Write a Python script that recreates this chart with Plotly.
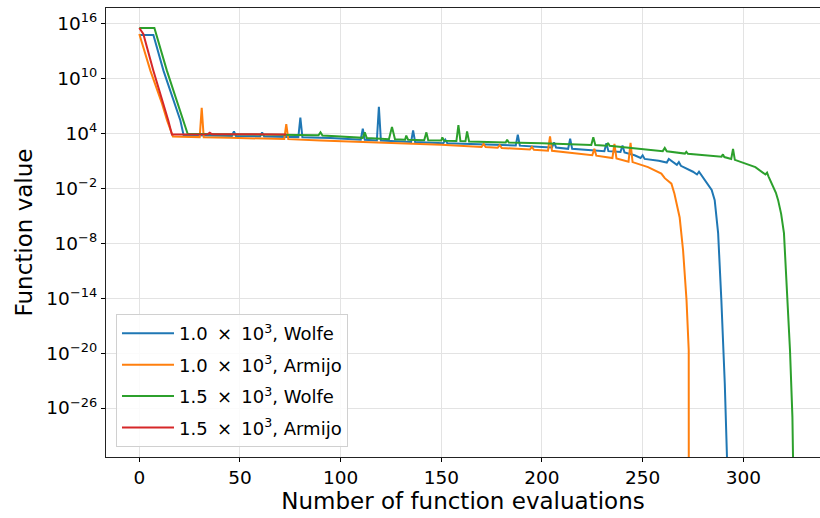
import plotly.graph_objects as go

# Function value (log10) vs. number of function evaluations for each run
blue_x = [0, 7, 12, 17, 20.4, 22, 30, 40, 46, 47, 48, 60, 61, 62, 79, 80, 81, 95,
          110, 111, 112, 118, 119, 120, 135, 136, 137, 151, 152, 153, 170, 187, 188,
          189, 200, 205, 206, 207, 213, 214, 215, 225, 231, 232, 233, 236, 239, 240,
          241, 246, 249, 250, 251, 258, 262, 263, 267, 268, 269, 275, 277, 278, 282,
          284.3, 285.8, 287.5, 289.1, 290.8, 291.9, 292.3]
blue_log = [14.73, 14.73, 10.84, 7.57, 5.39, 3.8, 3.76, 3.72, 3.7, 4.2, 3.7, 3.66, 4.1,
            3.66, 3.58, 5.7, 3.57, 3.48, 3.3, 4.5, 3.3, 3.22, 6.9, 3.2, 3.05, 4.3, 3.05,
            2.92, 3.3, 2.92, 2.8, 2.66, 3.85, 2.65, 2.5, 2.45, 3.0, 2.45, 2.3, 3.4, 2.3,
            2.15, 2.05, 2.9, 2.05, 2.0, 1.95, 2.66, 1.9, 1.6, 1.3, 1.6, 1.2, 1.0, 0.8,
            1.2, 0.55, 0.85, 0.45, -0.2, -0.5, -0.2, -1.5, -2.2, -3.3, -6.9, -14.2,
            -23.3, -31.4, -40]

orange_x = [0, 5.5, 11.3, 13.8, 16.7, 25, 30, 31, 32, 45, 60, 72, 73, 74, 90, 110,
            130, 150, 170, 171, 172, 178, 179, 180, 194, 195, 196, 203, 204, 205, 215,
            225, 226, 227, 235, 236, 237, 240, 243, 244, 245, 252.7, 259.3, 261, 264.3,
            265.8, 268.4, 270.1, 271.8, 272.9, 272.95]
orange_log = [14.84, 10.84, 7.24, 5.39, 3.64, 3.6, 3.58, 6.77, 3.57, 3.5, 3.42, 3.38,
              5.0, 3.36, 3.22, 3.07, 2.95, 2.75, 2.5, 2.85, 2.5, 2.42, 2.7, 2.4, 2.22,
              2.5, 2.2, 2.1, 3.67, 2.08, 1.85, 1.6, 2.3, 1.55, 1.3, 2.84, 1.25, 1.1,
              0.9, 2.95, 0.85, 0.3, -0.4, -0.9, -1.5, -2.6, -5.2, -8.8, -14.2, -19.7,
              -40]

green_x = [0, 7.5, 13.7, 18.7, 22, 24, 40, 60, 80, 89, 90, 91, 100, 111, 112, 113,
           120, 124, 125.5, 127, 132, 132.6, 133.5, 141.5, 142.6, 143.5, 150, 150.5,
           151.5, 157.5, 158.5, 159.5, 162, 162.8, 163.8, 170, 182, 182.7, 183.5, 200,
           219.6, 224.5, 225.5, 226.5, 232, 232.8, 233.6, 252.7, 260, 261, 262, 271,
           271.7, 272.5, 285.6, 289.2, 289.9, 290.6, 294, 294.9, 295.8, 300.7, 306,
           311, 311.8, 312.5, 314.5, 316.2, 317.3, 318.8, 320.2, 321.7, 323.2, 324.4,
           325, 325.3]
green_log = [15.5, 15.5, 10.84, 7.57, 5.39, 3.94, 3.9, 3.87, 3.83, 3.78, 4.1, 3.76,
             3.65, 3.5, 4.1, 3.48, 3.4, 3.36, 4.7, 3.35, 3.3, 3.75, 3.3, 3.25, 4.1,
             3.24, 3.2, 3.55, 3.19, 3.15, 4.9, 3.14, 3.12, 4.2, 3.11, 3.08, 3.0, 3.3,
             3.0, 2.9, 2.77, 2.73, 3.57, 2.72, 2.65, 2.95, 2.64, 2.2, 2.05, 2.4, 2.03,
             1.78, 1.98, 1.76, 1.57, 1.45, 1.7, 1.4, 1.2, 2.3, 1.1, 0.75, 0.3, -0.5,
             -0.3, -0.7, -1.6, -2.5, -3.3, -4.8, -6.9, -13.2, -19.7, -27, -31.4, -40]

red_x = [0, 2, 7, 12, 14.4, 16.2, 25, 34, 35, 36, 50, 60, 73]
red_log = [15.5, 14.84, 10.84, 7.24, 5.39, 3.88, 3.9, 3.9, 4.05, 3.9, 3.89, 3.88, 3.87]

TIMES = "\u2009\u00d7\u2009"
series = [
    (f"1.0 {TIMES} 10<sup>3</sup>, Wolfe", blue_x, blue_log, "#1f77b4"),
    (f"1.0 {TIMES} 10<sup>3</sup>, Armijo", orange_x, orange_log, "#ff7f0e"),
    (f"1.5 {TIMES} 10<sup>3</sup>, Wolfe", green_x, green_log, "#2ca02c"),
    (f"1.5 {TIMES} 10<sup>3</sup>, Armijo", red_x, red_log, "#d62728"),
]

y_tick_exps = [16, 10, 4, -2, -8, -14, -20, -26]
x_tick_vals = [0, 50, 100, 150, 200, 250, 300]

FONT = "DejaVu Sans"

fig = go.Figure()
for i, (name, xs, logs, color) in enumerate(series):
    fig.add_trace(go.Scatter(
        x=xs, y=[10.0 ** v for v in logs], mode="lines", name=name,
        line=dict(color=color, width=2), legendgroup=f"g{i}",
    ))

def sup_label(e):
    s = str(e).replace("-", "\u2212")
    return f"10<sup>{s}</sup>"

fig.update_layout(
    width=820, height=518,
    margin=dict(l=106, r=0, t=8, b=61),
    plot_bgcolor="white", paper_bgcolor="white",
    font=dict(family=FONT, color="black"),
    showlegend=True,
    legend=dict(
        x=0.014, y=0.022, xanchor="left", yanchor="bottom",
        bgcolor="rgba(255,255,255,0.85)", bordercolor="#d0d0d0", borderwidth=1,
        font=dict(family=FONT, size=18), traceorder="grouped", tracegroupgap=5,
        itemwidth=52,
    ),
)
fig.update_xaxes(
    range=[-16.54, 338.1], tickvals=x_tick_vals,
    ticks="outside", ticklen=4, tickcolor="black", tickwidth=1,
    showline=True, linecolor="#222222", linewidth=1.2, mirror=True,
    showgrid=True, gridcolor="#e3e3e3", gridwidth=1, zeroline=False,
    tickfont=dict(family=FONT, size=18.5),
    title=dict(text="Number of function evaluations", font=dict(family=FONT, size=23), standoff=4),
)
fig.update_yaxes(
    type="log", range=[-31.35, 17.68],
    tickvals=[10.0 ** e for e in y_tick_exps], ticktext=[sup_label(e) for e in y_tick_exps],
    ticks="outside", ticklen=4, tickcolor="black", tickwidth=1,
    showline=True, linecolor="#222222", linewidth=1.2, mirror=False,
    showgrid=True, gridcolor="#e3e3e3", gridwidth=1, zeroline=False,
    tickfont=dict(family=FONT, size=18.5),
    title=dict(text="Function value", font=dict(family=FONT, size=23), standoff=7),
)

fig.write_html("out.html")
